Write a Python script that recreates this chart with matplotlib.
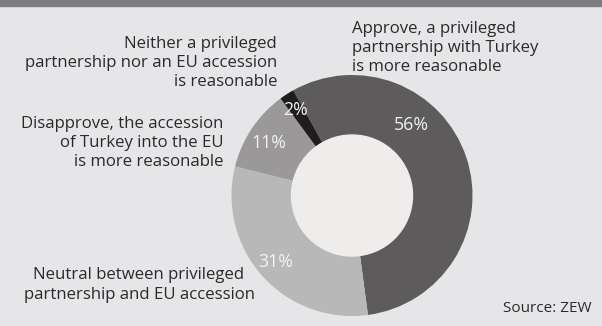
import matplotlib.pyplot as plt
from matplotlib.patches import Rectangle, Circle

# data
labels = ['Approve, a privileged\npartnership with Turkey\nis more reasonable',
          'Neutral between privileged\npartnership and EU accession',
          'Disapprove, the accession\nof Turkey into the EU\nis more reasonable',
          'Neither a privileged\npartnership nor an EU accession\nis reasonable']
shares = [56, 31, 11, 2]
pct_text = ['56%', '31%', '11%', '2%']
colors = ['#5d5b5c', '#b9b8b8', '#9a9899', '#1e1c1d']

plt.rcParams['font.family'] = ['Open Sans', 'DejaVu Sans']

W, H = 602, 326
fig = plt.figure(figsize=(W / 100, H / 100), dpi=100, facecolor='#e6e6e8')
ax = fig.add_axes([0, 0, 1, 1])

cx, cy, r = 352, H - 195.5, 120.5
ax.pie(shares, colors=colors, startangle=119.2, counterclock=False,
       center=(cx, cy), radius=r, wedgeprops=dict(linewidth=0), frame=True)
ax.add_patch(Circle((cx, cy), 60.5, color='#eeedeb', zorder=5))
ax.set_xlim(0, W)
ax.set_ylim(0, H)
ax.set_aspect('auto')
ax.axis('off')

# top bar
ax.add_patch(Rectangle((0, H - 6), W, 6, color='#7d7d80', clip_on=False))

fs = 12.1
tc = '#2b2a2b'
# percent labels
pct_pos = [(411.7, 125), (275.7, 262), (269, 143), (296, 110)]
for t, (px, py) in zip(pct_text, pct_pos):
    ax.text(px, H - py, t, color='#f2f2f2', fontsize=12.8, ha='center', va='center', zorder=6)

# category labels
lab_specs = [
    (352, 48, 'left'),
    (139, 285, 'center'),
    (223, 143, 'right'),
    (277, 63, 'right'),
]
for lab, (px, py, ha) in zip(labels, lab_specs):
    ax.text(px, H - py, lab, ha=ha, va='center', fontsize=fs, color=tc,
            linespacing=1.28, multialignment=ha)

ax.text(592, H - 308, 'Source: ZEW', ha='right', va='center', fontsize=11, color=tc)

fig.savefig('out.png', dpi=100, facecolor=fig.get_facecolor())
